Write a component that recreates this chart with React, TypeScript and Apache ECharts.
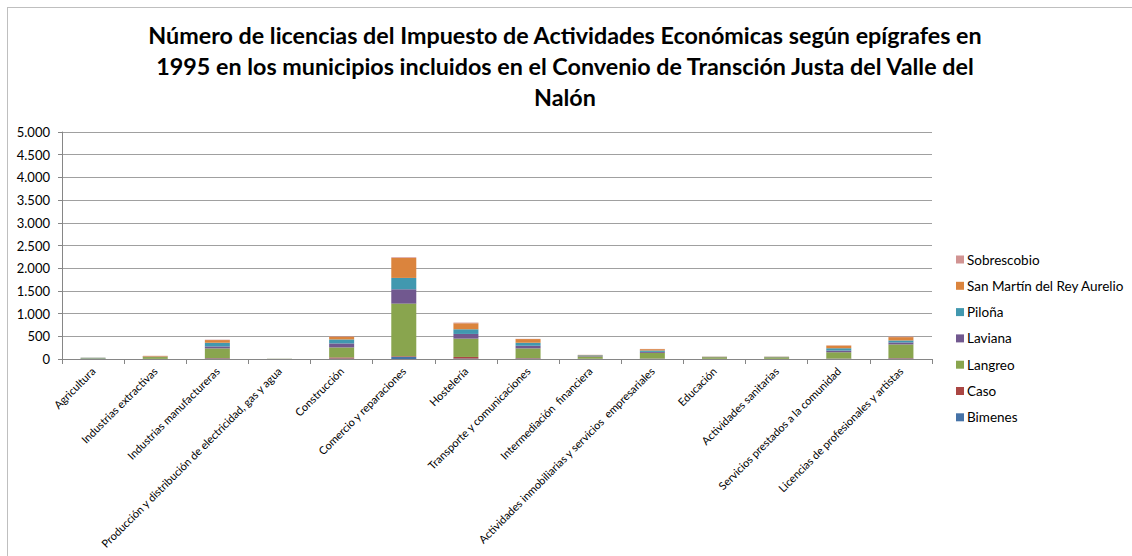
import React, { useEffect, useRef } from "react";
import * as echarts from "echarts";

const categories = [
  "Agricultura",
  "Industrias extractivas",
  "Industrias manufactureras",
  "Producción y distribución de electricidad, gas y agua",
  "Construcción",
  "Comercio y reparaciones",
  "Hostelería",
  "Transporte y comunicaciones",
  "Intermediación  financiera",
  "Actividades inmobiliarias y servicios  empresariales",
  "Educación",
  "Actividades sanitarias",
  "Servicios prestados a la comunidad",
  "Licencias de profesionales y artistas",
];

const bimenes = [2, 1, 10, 0, 10, 45, 10, 10, 3, 5, 2, 2, 5, 10];
const caso = [2, 2, 10, 0, 25, 15, 35, 10, 3, 5, 3, 2, 5, 10];
const langreo = [12, 40, 213, 3, 220, 1160, 404, 213, 50, 125, 35, 35, 139, 301];
const laviana = [3, 5, 44, 1, 88, 316, 103, 59, 10, 22, 4, 4, 37, 44];
const pilona = [8, 5, 81, 1, 88, 250, 103, 66, 15, 30, 4, 5, 51, 44];
const sanMartin = [3, 15, 59, 1, 59, 440, 132, 81, 8, 30, 4, 4, 59, 73];
const sobrescobio = [1, 2, 8, 0, 10, 15, 15, 5, 3, 5, 1, 1, 4, 10];

const seriesNames = ["Bimenes", "Caso", "Langreo", "Laviana", "Piloña", "San Martín del Rey Aurelio", "Sobrescobio"];
const seriesValues = [bimenes, caso, langreo, laviana, pilona, sanMartin, sobrescobio];
const seriesColors = ["#4572A7", "#AA4643", "#89A54E", "#71588F", "#4198AF", "#DB843D", "#D19392"];

const titleText =
  "Número de licencias del Impuesto de Actividades Económicas según epígrafes en\n1995 en los municipios incluidos en el Convenio de Transción Justa del Valle del\nNalón";

const FONT = "Lato, 'Liberation Sans', sans-serif";

export default function App() {
  const ref = useRef<HTMLDivElement>(null);

  useEffect(() => {
    if (!ref.current) return;
    const chart = echarts.init(ref.current, undefined, { renderer: "svg" });
    chart.setOption({
      animation: false,
      backgroundColor: "#ffffff",
      textStyle: { fontFamily: FONT },
      title: {
        text: titleText,
        left: 557,
        top: 11,
        padding: 0,
        textAlign: "center",
        textStyle: {
          fontFamily: FONT,
          fontSize: 23.3,
          fontWeight: "bold",
          color: "#000",
          lineHeight: 31,
        },
      },
      legend: {
        orient: "vertical",
        left: 943,
        top: 239,
        data: [...seriesNames].reverse(),
        icon: "rect",
        itemWidth: 8,
        itemHeight: 8,
        itemGap: 11.3,
        textStyle: { fontFamily: FONT, fontSize: 13.5, color: "#000", lineHeight: 15, padding: [0, 0, 0, -2] },
      },
      grid: { left: 54, right: 216, top: 124, bottom: 209, containLabel: false },
      xAxis: {
        type: "category",
        data: categories,
        axisLine: { lineStyle: { color: "#868686" } },
        axisTick: { show: true, length: 5, alignWithLabel: false, lineStyle: { color: "#868686" } },
        axisLabel: {
          interval: 0,
          rotate: 45,
          fontFamily: FONT,
          fontSize: 11,
          color: "#000",
          margin: 10,
        },
      },
      yAxis: {
        type: "value",
        min: 0,
        max: 5000,
        interval: 500,
        axisLine: { show: true, lineStyle: { color: "#868686" } },
        axisTick: { show: true, length: 4, lineStyle: { color: "#868686" } },
        splitLine: { lineStyle: { color: "#a0a0a0", width: 1 } },
        axisLabel: {
          fontFamily: FONT,
          fontSize: 13,
          color: "#000",
          margin: 12,
          formatter: (v: number) => v.toString().replace(/\B(?=(\d{3})+(?!\d))/g, "."),
        },
      },
      series: seriesNames.map((name, i) => ({
        name,
        type: "bar",
        stack: "total",
        barWidth: 25,
        data: seriesValues[i],
        itemStyle: { color: seriesColors[i] },
      })),
    });
    return () => chart.dispose();
  }, []);

  return (
    <div
      ref={ref}
      style={{
        position: "fixed",
        left: 7,
        top: 7,
        width: 1140,
        height: 560,
        border: "1px solid #bfbfbf",
        background: "#fff",
      }}
    />
  );
}
